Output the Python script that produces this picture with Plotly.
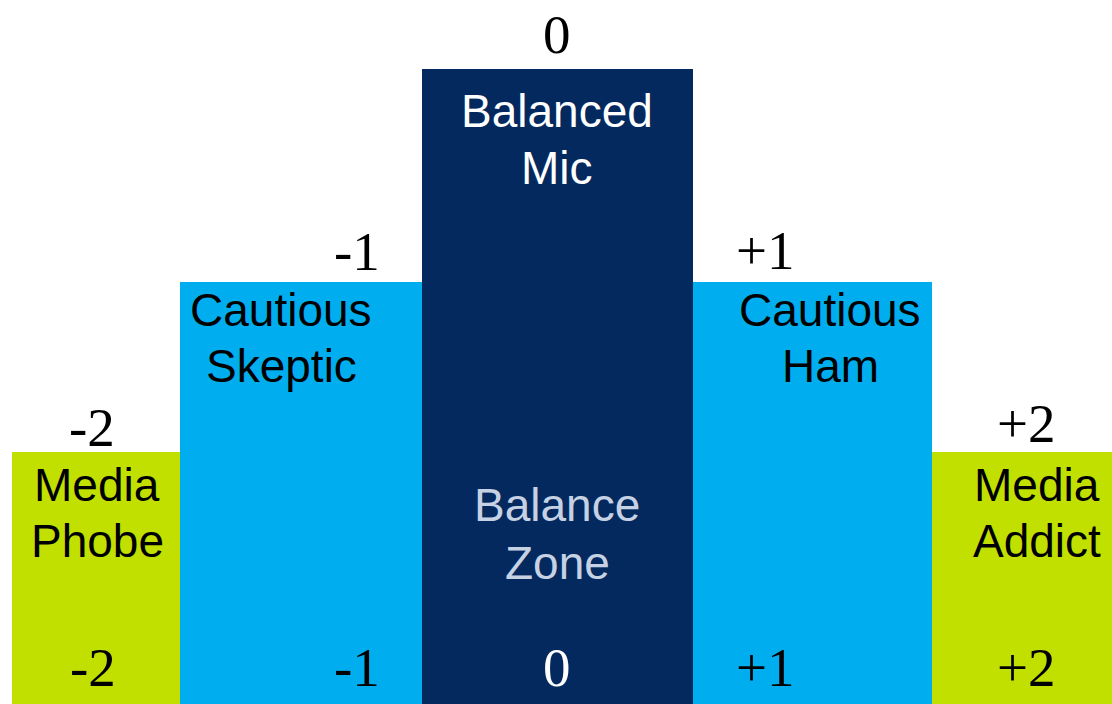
import plotly.graph_objects as go

# ---- data ----
categories = ["-2", "-1", "0", "+1", "+2"]
names = [["Media", "Phobe"], ["Cautious", "Skeptic"], ["Balanced", "Mic"], ["Cautious", "Ham"], ["Media", "Addict"]]
heights = [252, 422, 635, 422, 252]
zone_label = ["Balance", "Zone"]

# ---- layout / style ----
W, H = 1112, 704
bar_edges = [12, 180, 422, 693, 932, 1112]
colors = ["#C2E000", "#00AEEF", "#03295E", "#00AEEF", "#C2E000"]
name_colors = ["black", "black", "white", "black", "black"]
bottom_colors = ["black", "black", "white", "black", "black"]

top_label_pos = [(92, 427), (357, 251), (557, 34), (765, 250), (1026, 423)]
bottom_label_pos = [(93, 667), (357, 667), (557, 667), (765, 667), (1026, 667)]
name_x = [97, 281, 557, 830, 1037]
name_y = [(485, 541), (310, 366), (111, 168), (310, 366), (485, 541)]
zone_xy = (557, (505, 563))

centers = [(bar_edges[i] + bar_edges[i + 1]) / 2 for i in range(len(heights))]
widths = [bar_edges[i + 1] - bar_edges[i] for i in range(len(heights))]

SERIF = "Liberation Serif, Times New Roman, serif"
SANS = "Liberation Sans, Arial, sans-serif"

fig = go.Figure()
fig.add_trace(go.Bar(
    x=centers, y=heights, width=widths,
    marker=dict(color=colors, line=dict(width=0)),
    hoverinfo="skip",
))

ann = []
for lab, (x, y) in zip(categories, top_label_pos):
    ann.append(dict(x=x, y=H - y, text=lab, font=dict(family=SERIF, size=55, color="black")))
for lab, (x, y), c in zip(categories, bottom_label_pos, bottom_colors):
    ann.append(dict(x=x, y=H - y, text=lab, font=dict(family=SERIF, size=55, color=c)))
for lines, x, ys, c in zip(names, name_x, name_y, name_colors):
    for line, y in zip(lines, ys):
        ann.append(dict(x=x, y=H - y, text=line, font=dict(family=SANS, size=46, color=c)))
for line, y in zip(zone_label, zone_xy[1]):
    ann.append(dict(x=zone_xy[0], y=H - y, text=line,
                    font=dict(family=SANS, size=46, color="#C6D2E4")))
for a in ann:
    a.update(xref="x", yref="y", showarrow=False, xanchor="center", yanchor="middle")

fig.update_layout(
    width=W, height=H,
    margin=dict(l=0, r=0, t=0, b=0),
    paper_bgcolor="white", plot_bgcolor="white",
    showlegend=False,
    bargap=0,
    xaxis=dict(range=[0, W], visible=False, fixedrange=True),
    yaxis=dict(range=[0, H], visible=False, fixedrange=True),
    annotations=ann,
)

fig.write_html(
    "out.html",
    config={"displayModeBar": False},
    post_script="document.body.style.margin='0';document.body.style.overflow='hidden';",
)
